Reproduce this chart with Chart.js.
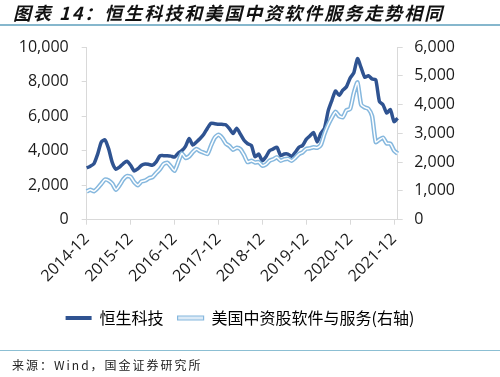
<!DOCTYPE html>
<html lang="zh">
  <head>
    <meta charset="UTF-8" />
    <title>恒生科技和美国中资软件服务走势相同</title>
    <script src="https://cdn.jsdelivr.net/npm/chart.js"></script>
    <style>
      body { margin: 0; background: #fff; }
      #wrap { position: relative; width: 500px; height: 377px; overflow: hidden; }
      #chart { position: absolute; left: 0; top: 0; }
      #title {
        position: absolute; left: 0; top: 0; width: 500px; height: 26px;
        border-bottom: 2px solid #86b7cd;
        font-family: 'Noto Sans CJK SC', sans-serif; font-size: 18px;
        font-weight: bold; font-style: italic; letter-spacing: 2px;
        line-height: 24px; color: #111; padding-left: 13px; box-sizing: border-box;
      }
      #source {
        position: absolute; left: 0; top: 350px; width: 500px; height: 27px;
        border-top: 1.5px solid #8cbfd3; box-sizing: border-box;
        font-family: 'Noto Sans CJK SC', sans-serif; font-size: 12px;
        letter-spacing: 2px; color: #222; padding: 5px 0 0 12px;
      }
    </style>
  </head>
  <body>
    <div id="wrap">
      <canvas id="chart" width="500" height="377"></canvas>
      <div id="title">图表 14：恒生科技和美国中资软件服务走势相同</div>
      <div id="source">来源：Wind，国金证券研究所</div>
    </div>

    <script>
      // monthly, 2014-12 .. 2022-01
      const startYear = 2014;
      const startMonth = 12;
      const monthCount = 86;

      const yearTicks = ['2014-12', '2015-12', '2016-12', '2017-12', '2018-12', '2019-12', '2020-12', '2021-12'];

      // 恒生科技 (left axis)
      const hstech = [
        3000, 3100, 3250, 3800, 4500, 4620, 4100, 3300, 2920, 3050, 3250, 3380,
        3150, 2820, 2950, 3150, 3230, 3200, 3160, 3350, 3700, 3710, 3700, 3680,
        3630, 3850, 4000, 4250, 4700, 4320, 4500, 4700, 4950, 5300, 5580, 5560,
        5530, 5520, 5500, 5280, 4990, 5300, 4950, 4600, 4400, 4300, 3650, 3800,
        3410, 3650, 4000, 4100, 4200, 3710, 3800, 3800, 3670, 3900, 4200, 4300,
        4650, 4850, 5050, 4500, 5000, 5300, 6300, 6900, 7450, 7200, 7500, 7700,
        8200, 8500, 9330, 8800, 8250, 8340, 8150, 8100, 6850, 6650, 6170, 6370,
        5680, 5880
      ];

      // 美国中资股软件与服务 (right axis)
      const usChinaSoftware = [
        980, 1040, 990, 1100, 1250, 1395, 1360, 1250, 1040, 1200, 1400, 1516,
        1490, 1300, 1200, 1330, 1360, 1440, 1480, 1620, 1750, 1930, 1980, 1850,
        1700, 2000, 2300, 2150, 2200, 2350, 2460, 2380, 2330, 2283, 2580, 2850,
        2950, 2850, 2650, 2560, 2430, 2500, 2450, 2250, 2000, 2050, 1990, 2000,
        1880, 1920, 2050, 2100, 2166, 2050, 2100, 2120, 2050, 2150, 2280, 2340,
        2460, 2480, 2520, 2500, 2600, 2990, 3300, 3550, 3750, 3600, 3560, 3800,
        3850, 4400, 4768, 4000, 3900, 3850, 3600, 2700, 2780, 2850, 2650, 2640,
        2400, 2300
      ];

      const months = [];
      for (let i = 0; i < monthCount; i++) {
        const m = (startMonth - 1 + i) % 12 + 1;
        const y = startYear + Math.floor((startMonth - 1 + i) / 12);
        months.push(y + '-' + String(m).padStart(2, '0'));
      }

      const darkBlue = '#2f5391';
      const lightBlue = '#86b8de';
      const axisGray = '#d9d9d9';
      const tickFont = "'Open Sans', 'Noto Sans CJK SC', sans-serif";

      new Chart(document.getElementById('chart'), {
        type: 'line',
        data: {
          labels: months,
          datasets: [
            {
              label: '恒生科技',
              data: hstech,
              yAxisID: 'y',
              borderColor: darkBlue,
              borderWidth: 3.5,
              pointRadius: 0,
              tension: 0.2,
              order: 3,
            },
            {
              label: '美国中资股软件与服务(右轴)',
              data: usChinaSoftware,
              yAxisID: 'y1',
              borderColor: lightBlue,
              borderWidth: 4.5,
              pointRadius: 0,
              tension: 0.2,
              order: 2,
            },
            {
              // white core for the double line look
              label: '',
              data: usChinaSoftware,
              yAxisID: 'y1',
              borderColor: '#ffffff',
              borderWidth: 1.5,
              pointRadius: 0,
              tension: 0.2,
              order: 1,
            },
          ],
        },
        options: {
          responsive: false,
          animation: false,
          layout: { padding: { top: 47, left: 0, right: 20, bottom: 41 } },
          plugins: {
            tooltip: { enabled: false },
            legend: {
              position: 'bottom',
              labels: {
                boxWidth: 26,
                boxHeight: 4,
                padding: 14,
                color: '#111',
                font: { family: "'Noto Sans CJK SC', sans-serif", size: 16 },
                generateLabels: () => [
                  { text: '恒生科技', fillStyle: darkBlue, strokeStyle: darkBlue, lineWidth: 0, datasetIndex: 0 },
                  { text: '美国中资股软件与服务(右轴)', fillStyle: '#dceaf6', strokeStyle: lightBlue, lineWidth: 1.2, datasetIndex: 1 },
                ],
              },
            },
          },
          scales: {
            x: {
              type: 'category',
              offset: false,
              afterFit: (scale) => { scale.height = 76.3; },
              grid: { display: true, drawOnChartArea: false, tickLength: 5, color: axisGray },
              border: { color: axisGray },
              ticks: {
                autoSkip: false,
                minRotation: 45,
                maxRotation: 45,
                padding: 5,
                color: '#1a1a1a',
                font: { family: tickFont, size: 16 },
                callback: function (value) {
                  const lab = this.getLabelForValue(value);
                  return yearTicks.includes(lab) ? lab : null;
                },
              },
            },
            y: {
              position: 'left',
              min: 0,
              max: 10000,
              afterFit: (scale) => { scale.width = 86.7; },
              grid: { display: true, drawOnChartArea: false, tickLength: 5, color: axisGray },
              border: { color: axisGray },
              ticks: {
                stepSize: 2000,
                padding: 13,
                color: '#1a1a1a',
                font: { family: tickFont, size: 16 },
                callback: (v) => v.toLocaleString('en-US'),
              },
            },
            y1: {
              position: 'right',
              min: 0,
              max: 6000,
              afterFit: (scale) => { scale.width = 82.3; },
              grid: { display: true, drawOnChartArea: false, tickLength: 5, color: axisGray },
              border: { color: axisGray },
              ticks: {
                stepSize: 1000,
                padding: 11.5,
                color: '#1a1a1a',
                font: { family: tickFont, size: 16 },
                callback: (v) => v.toLocaleString('en-US'),
              },
            },
          },
        },
      });
    </script>
  </body>
</html>
